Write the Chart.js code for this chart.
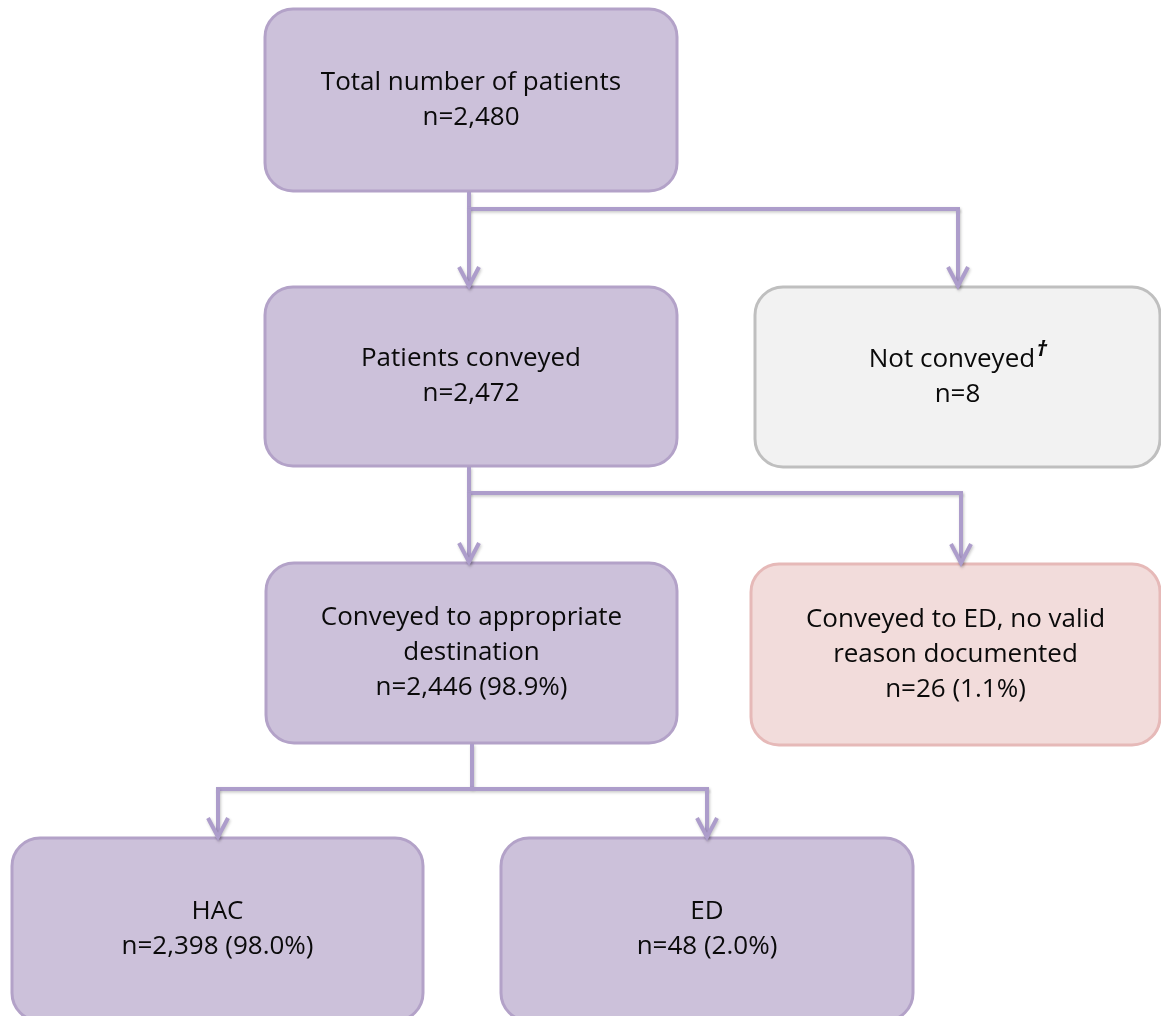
<!DOCTYPE html>
<html>
<head>
<meta charset="utf-8">
<script src="https://cdn.jsdelivr.net/npm/chart.js@4.4.1/dist/chart.umd.min.js"></script>
<style>
  html, body { margin: 0; padding: 0; background: #ffffff; }
  #wrap { width: 1161px; height: 1016px; }
</style>
</head>
<body>
<div id="wrap"><canvas id="flow" width="1161" height="1016"></canvas></div>
<script>
// --- Flow data ---
const stepTitles = [
    ['Total number of patients'],
    ['Patients conveyed'],
    ['Not conveyed'],
    ['Conveyed to appropriate', 'destination'],
    ['Conveyed to ED, no valid', 'reason documented'],
    ['HAC'],
    ['ED']
];
const stepCounts = [2480, 2472, 8, 2446, 26, 2398, 48];
const stepPercents = [null, null, null, 98.9, 1.1, 98.0, 2.0];
const stepNotes = ['', '', '\u2020', '', '', '', ''];
const stepKinds = ['main', 'main', 'excluded', 'main', 'flagged', 'main', 'main'];
const flowLinks = [
    { from: 0, to: [1, 2] },
    { from: 1, to: [3, 4] },
    { from: 3, to: [5, 6] }
];

// --- Layout (page units, y grows downward) ---
const boxLayout = [
    { x0: 265, x1: 677, y0: 9,   y1: 191 },
    { x0: 265, x1: 677, y0: 287, y1: 466 },
    { x0: 755, x1: 1160, y0: 287, y1: 467 },
    { x0: 266, x1: 677, y0: 563, y1: 743 },
    { x0: 751, x1: 1160, y0: 564, y1: 745 },
    { x0: 12,  x1: 423, y0: 838, y1: 1021 },
    { x0: 501, x1: 913, y0: 838, y1: 1021 }
];
const linkLayout = [
    { stemX: 469, busY: 209, tipX: [469, 958] },
    { stemX: 469, busY: 493, tipX: [469, 961] },
    { stemX: 472, busY: 789, tipX: [218, 707] }
];
const kindStyles = {
    main:     { fill: '#ccc1da', stroke: '#b3a2c8' },
    excluded: { fill: '#f2f2f2', stroke: '#bfbfbf' },
    flagged:  { fill: '#f2dcdb', stroke: '#e6b9b8' }
};
const linkColor = '#ad9dcb';
const fontFamily = '"Open Sans", "Noto Sans", sans-serif';
const fontSize = 26;
const lineGap = 35;

function stepLines(i) {
    const lines = stepTitles[i].slice();
    let n = 'n=' + stepCounts[i].toLocaleString('en-US');
    if (stepPercents[i] !== null) n += ' (' + stepPercents[i].toFixed(1) + '%)';
    lines.push(n);
    return lines;
}

const flowPlugin = {
    id: 'flowPlugin',
    afterDatasetsDraw(chart) {
        const ctx = chart.ctx;
        const sx = chart.scales.x;
        const sy = chart.scales.y;
        const px = v => sx.getPixelForValue(v);
        const py = v => sy.getPixelForValue(v);

        // boxes
        boxLayout.forEach((b, i) => {
            const st = kindStyles[stepKinds[i]];
            const x = px(b.x0), y = py(b.y0);
            const w = px(b.x1) - x, h = py(b.y1) - y;
            ctx.save();
            ctx.beginPath();
            ctx.roundRect(x, y, w, h, 28);
            ctx.fillStyle = st.fill;
            ctx.fill();
            ctx.lineWidth = 3;
            ctx.strokeStyle = st.stroke;
            ctx.stroke();
            ctx.restore();
        });

        // connectors
        ctx.save();
        ctx.strokeStyle = linkColor;
        ctx.lineWidth = 4;
        ctx.lineCap = 'butt';
        ctx.lineJoin = 'miter';
        ctx.shadowColor = 'rgba(0,0,0,0.22)';
        ctx.shadowBlur = 3;
        ctx.shadowOffsetX = 1;
        ctx.shadowOffsetY = 1.5;
        flowLinks.forEach((lk, k) => {
            const L = linkLayout[k];
            const src = boxLayout[lk.from];
            ctx.beginPath();
            ctx.moveTo(px(L.stemX), py(src.y1) + 1);
            ctx.lineTo(px(L.stemX), py(L.busY));
            ctx.stroke();
            ctx.beginPath();
            ctx.moveTo(px(Math.min(...L.tipX, L.stemX)) - 2, py(L.busY));
            ctx.lineTo(px(Math.max(...L.tipX, L.stemX)) + 2, py(L.busY));
            ctx.stroke();
            lk.to.forEach((t, j) => {
                const tx = px(L.tipX[j]);
                const ty = py(boxLayout[t].y0);
                ctx.beginPath();
                ctx.moveTo(tx, py(L.busY));
                ctx.lineTo(tx, ty);
                ctx.stroke();
                ctx.beginPath();
                ctx.moveTo(tx - 10, ty - 20);
                ctx.lineTo(tx, ty - 1);
                ctx.lineTo(tx + 10, ty - 20);
                ctx.stroke();
            });
        });
        ctx.restore();

        // labels
        ctx.save();
        ctx.fillStyle = '#0a0a0a';
        ctx.textAlign = 'center';
        ctx.textBaseline = 'middle';
        boxLayout.forEach((b, i) => {
            const lines = stepLines(i);
            const cx = (px(b.x0) + px(b.x1)) / 2;
            const cy = (py(b.y0) + py(b.y1)) / 2;
            const top = cy - (lines.length - 1) * lineGap / 2;
            lines.forEach((ln, j) => {
                const ly = top + j * lineGap;
                ctx.font = fontSize + 'px ' + fontFamily;
                if (j === 0 && stepNotes[i]) {
                    const w = ctx.measureText(ln).width;
                    ctx.font = 'italic bold ' + (fontSize - 4) + 'px ' + fontFamily;
                    const nw = ctx.measureText(stepNotes[i]).width;
                    ctx.textAlign = 'left';
                    const start = cx - (w + nw) / 2;
                    ctx.font = fontSize + 'px ' + fontFamily;
                    ctx.fillText(ln, start, ly);
                    ctx.font = 'italic bold ' + (fontSize - 4) + 'px ' + fontFamily;
                    ctx.fillText(stepNotes[i], start + w + 1, ly - 10);
                    ctx.textAlign = 'center';
                } else {
                    ctx.fillText(ln, cx, ly);
                }
            });
        });
        ctx.restore();
    }
};

new Chart(document.getElementById('flow').getContext('2d'), {
    type: 'scatter',
    data: { datasets: [{ data: [], pointRadius: 0 }] },
    options: {
        responsive: false,
        animation: false,
        layout: { padding: 0 },
        plugins: { legend: { display: false }, tooltip: { enabled: false } },
        scales: {
            x: { type: 'linear', min: 0, max: 1161, display: false },
            y: { type: 'linear', min: 0, max: 1016, reverse: true, display: false }
        }
    },
    plugins: [flowPlugin]
});
</script>
</body>
</html>
